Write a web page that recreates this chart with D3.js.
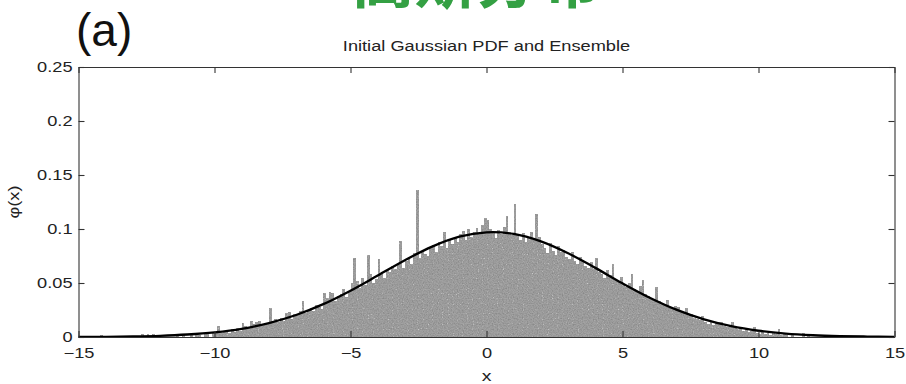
<!DOCTYPE html>
<html>
<head>
<meta charset="utf-8">
<script src="https://cdn.jsdelivr.net/npm/d3@7"></script>
<style>
  body { margin: 0; background: #fff; }
  svg { display: block; font-family: "Liberation Sans", Arial, sans-serif; }
</style>
</head>
<body>
<div id="chart"></div>
<script>
// tick values and labels
var xTicks = [-15, -10, -5, 0, 5, 10, 15];
var xTickLabels = ["\u221215", "\u221210", "\u22125", "0", "5", "10", "15"];
var yTicks = [0, 0.05, 0.1, 0.15, 0.2, 0.25];
var yTickLabels = ["0", "0.05", "0.1", "0.15", "0.2", "0.25"];

// ensemble histogram: bins of width 0.1 starting at -15, heights in phi x 1000
var binStart = -15;
var binWidth = 0.1;
var binHeights = [
    0, 0, 0, 0, 0, 0, 0, 0, 2, 0,            // -15
    0, 0, 0, 0, 0, 0, 0, 0, 0, 0,            // -14
    0, 0, 0, 3, 0, 3, 0, 3, 0, 0,            // -13
    0, 0, 0, 0, 0, 0, 2, 0, 2, 0,            // -12
    0, 2, 0, 3, 2, 0, 4, 3, 0, 5,            // -11
    4, 10, 4, 5, 6, 4, 7, 5, 8, 6,           // -10
    13, 10, 9, 15, 12, 14, 15, 11, 12, 13,   // -9
    27, 15, 17, 14, 18, 15, 22, 23, 17, 21,  // -8
    21, 24, 33, 22, 25, 27, 24, 30, 28, 26,  // -7
    41, 36, 42, 41, 33, 38, 40, 44, 37, 42,  // -6
    50, 73, 52, 45, 55, 48, 76, 58, 50, 54,  // -5
    72, 58, 55, 62, 60, 66, 63, 68, 89, 64,  // -4
    70, 74, 68, 78, 136, 73, 80, 77, 75, 82, // -3
    85, 79, 88, 84, 97, 82, 90, 86, 93, 88,  // -2
    95, 98, 90, 100, 93, 97, 101, 96, 104, 110, // -1
    108, 100, 96, 92, 99, 95, 102, 112, 97, 94, // 0
    123, 94, 90, 96, 88, 92, 97, 91, 114, 93,   // 1
    86, 82, 78, 87, 80, 76, 84, 79, 81, 74,  // 2
    72, 79, 70, 68, 74, 71, 66, 64, 69, 63,  // 3
    73, 60, 58, 55, 62, 57, 68, 54, 52, 56,  // 4
    48, 46, 50, 58, 44, 42, 47, 53, 40, 38,  // 5
    36, 34, 46, 33, 31, 30, 34, 28, 27, 29,  // 6
    28, 24, 22, 27, 20, 21, 18, 17, 16, 19,  // 7
    14, 12, 15, 11, 13, 14, 14, 10, 9, 11,   // 8
    14, 8, 7, 9, 6, 7, 5, 6, 9, 4,           // 9
    3, 5, 3, 4, 2, 4, 3, 7, 2, 3,            // 10
    2, 0, 2, 0, 0, 0, 4, 0, 1, 0             // 11
];

// initial Gaussian PDF read at whole x values
var curveX = [-15, -14, -13, -12, -11, -10, -9, -8, -7, -6, -5, -4, -3, -2, -1, 0,
              1, 2, 3, 4, 5, 6, 7, 8, 9, 10, 11, 12, 13, 14, 15];
var curvePhi = [0.0001, 0.0002, 0.0005, 0.0011, 0.0023, 0.0043, 0.0076, 0.0129, 0.0204,
                0.0304, 0.0429, 0.0569, 0.0711, 0.0837, 0.0929, 0.0969, 0.0955, 0.0886,
                0.0776, 0.0640, 0.0497, 0.0364, 0.0251, 0.0163, 0.0100, 0.0058, 0.0031,
                0.0016, 0.0008, 0.0004, 0.0002];

var width = 906, height = 384;
var margin = {top: 67, right: 12, bottom: 47, left: 78.5};
var plotW = 894.5 - margin.left;
var plotH = 337 - margin.top;

var svg = d3.select("#chart").append("svg")
    .attr("width", width)
    .attr("height", height);

// speckled grey texture for the bars: dark and light grains on a mid grey
var grain = svg.append("defs").append("filter")
    .attr("id", "grain")
    .attr("x", 0).attr("y", 0).attr("width", 1).attr("height", 1);
grain.append("feTurbulence")
    .attr("type", "fractalNoise")
    .attr("baseFrequency", 0.8)
    .attr("numOctaves", 1)
    .attr("seed", 7)
    .attr("result", "noise");
grain.append("feColorMatrix")
    .attr("in", "noise")
    .attr("type", "matrix")
    .attr("values", "0 0 0 0 0.25  0 0 0 0 0.25  0 0 0 0 0.25  2.6 0 0 0 -1.0")
    .attr("result", "darkDots");
grain.append("feColorMatrix")
    .attr("in", "noise")
    .attr("type", "matrix")
    .attr("values", "0 0 0 0 1  0 0 0 0 1  0 0 0 0 1  0 -2.4 0 0 0.85")
    .attr("result", "lightDots");
grain.append("feComposite")
    .attr("in", "darkDots").attr("in2", "SourceGraphic")
    .attr("operator", "in").attr("result", "darkIn");
grain.append("feComposite")
    .attr("in", "lightDots").attr("in2", "SourceGraphic")
    .attr("operator", "in").attr("result", "lightIn");
var merge = grain.append("feMerge");
merge.append("feMergeNode").attr("in", "SourceGraphic");
merge.append("feMergeNode").attr("in", "lightIn");
merge.append("feMergeNode").attr("in", "darkIn");

// green heading, mostly above the window
svg.append("text")
    .attr("x", 352)
    .attr("y", 3)
    .style("font-family", "'Noto Sans CJK SC', sans-serif")
    .style("font-size", "62px")
    .style("font-weight", "bold")
    .style("fill", "#34a043")
    .text("高斯分布");

svg.append("text")
    .attr("x", 76)
    .attr("y", 46)
    .style("font-size", "46px")
    .style("fill", "#111")
    .text("(a)");

var g = svg.append("g")
    .attr("transform", "translate(" + margin.left + "," + margin.top + ")");

var x = d3.scaleLinear().domain([-15, 15]).range([0, plotW]);
var y = d3.scaleLinear().domain([0, 0.25]).range([plotH, 0]);

var bins = binHeights.map(function(h, i) {
    return {x0: binStart + i * binWidth, x1: binStart + (i + 1) * binWidth, phi: h / 1000};
}).filter(function(b) { return b.phi > 0; });

// histogram bars
g.append("g")
    .attr("filter", "url(#grain)")
    .selectAll("rect")
    .data(bins)
    .enter().append("rect")
    .attr("x", function(d) { return x(d.x0); })
    .attr("width", function(d) { return x(d.x1) - x(d.x0); })
    .attr("y", function(d) { return y(d.phi); })
    .attr("height", function(d) { return plotH - y(d.phi); })
    .attr("shape-rendering", "crispEdges")
    .style("fill", "#a2a2a2");

// Gaussian curve
var line = d3.line()
    .x(function(d, i) { return x(curveX[i]); })
    .y(function(d) { return y(d); })
    .curve(d3.curveCatmullRom);

g.append("path")
    .attr("d", line(curvePhi))
    .style("fill", "none")
    .style("stroke", "#000")
    .style("stroke-width", 2.3);

// axes, ticks pointing inward on all four sides
var xAxis = d3.axisBottom(x).tickValues(xTicks)
    .tickFormat(function(d, i) { return xTickLabels[i]; })
    .tickSizeInner(-6).tickSizeOuter(0).tickPadding(11);
var yAxis = d3.axisLeft(y).tickValues(yTicks)
    .tickFormat(function(d, i) { return yTickLabels[i]; })
    .tickSizeInner(-6).tickSizeOuter(0).tickPadding(6);

g.append("g").attr("class", "axis")
    .attr("transform", "translate(0," + plotH + ")")
    .call(xAxis);
g.append("g").attr("class", "axis")
    .call(yAxis);
g.append("g").attr("class", "axis")
    .call(d3.axisTop(x).tickValues(xTicks).tickFormat("").tickSizeInner(-6).tickSizeOuter(0));
g.append("g").attr("class", "axis")
    .attr("transform", "translate(" + plotW + ",0)")
    .call(d3.axisRight(y).tickValues(yTicks).tickFormat("").tickSizeInner(-6).tickSizeOuter(0));

g.selectAll(".axis path, .axis line").style("stroke", "#333").style("stroke-width", 1.1);
g.selectAll(".axis text").style("font-size", "14px").style("fill", "#222").attr("class", "stretch");

// title and axis labels
g.append("text").attr("class", "stretch")
    .attr("x", plotW / 2)
    .attr("y", -16)
    .attr("text-anchor", "middle")
    .style("font-size", "14px")
    .style("fill", "#222")
    .text("Initial Gaussian PDF and Ensemble");

g.append("text").attr("class", "stretch")
    .attr("x", x(0))
    .attr("y", plotH + 44)
    .attr("text-anchor", "middle")
    .style("font-size", "15px")
    .style("fill", "#222")
    .text("x");

g.append("text").attr("class", "stretch")
    .attr("transform", "translate(-60," + (plotH / 2) + ") rotate(-90)")
    .attr("text-anchor", "middle")
    .style("font-size", "14px")
    .style("fill", "#222")
    .text("\u03c6(x)");

// the original lettering is wider than Arial at the same height
svg.selectAll("text.stretch").each(function() {
    var len = this.getComputedTextLength();
    d3.select(this)
        .attr("textLength", len * 1.3)
        .attr("lengthAdjust", "spacingAndGlyphs");
});
</script>
</body>
</html>
